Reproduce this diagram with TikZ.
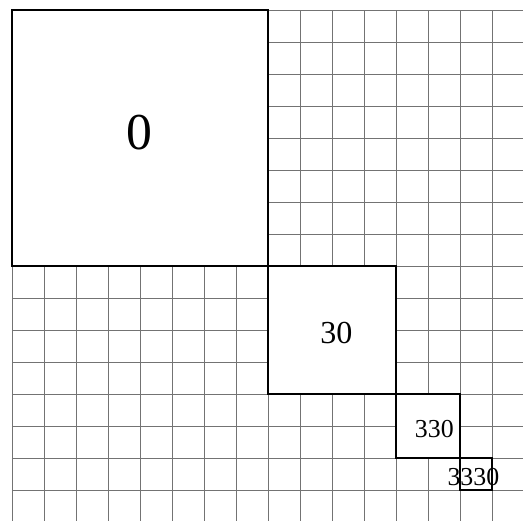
\documentclass[tikz,border=0pt]{standalone}
\usepackage{fontspec}
\setmainfont{Liberation Serif}
\begin{document}
\begin{tikzpicture}[x=1cm, y=1cm,
  blk/.style={draw=black, line width=1.6pt, fill=white},
  lbl/.style={anchor=base, inner sep=0pt}]
\useasboundingbox (-0.375,0.3125) rectangle (15.97,-15.94);
\clip (-0.375,0.3125) rectangle (15.97,-15.94);
% background grid, 16 x 16 cells
\draw[black!55, line width=0.7pt, step=1] (0,0) grid (16,-16);
% nested squares
\draw[blk] (0,0) rectangle (8,-8);
\draw[blk] (8,-8) rectangle (12,-12);
\draw[blk] (12,-12) rectangle (14,-14);
\draw[blk] (14,-14) rectangle (15,-15);
% labels
\node[lbl, font=\fontsize{46}{46}\selectfont] (q0) at (3.97,-4.375) {0};
\node[lbl, font=\fontsize{28.5}{28.5}\selectfont] (q30) at (10.14,-10.41) {30};
\node[lbl, font=\fontsize{23}{23}\selectfont] (q330) at (13.2,-13.375) {330};
\node[lbl, font=\fontsize{23}{23}\selectfont] (q3330) at (14.42,-14.875) {3330};
\end{tikzpicture}
\end{document}
